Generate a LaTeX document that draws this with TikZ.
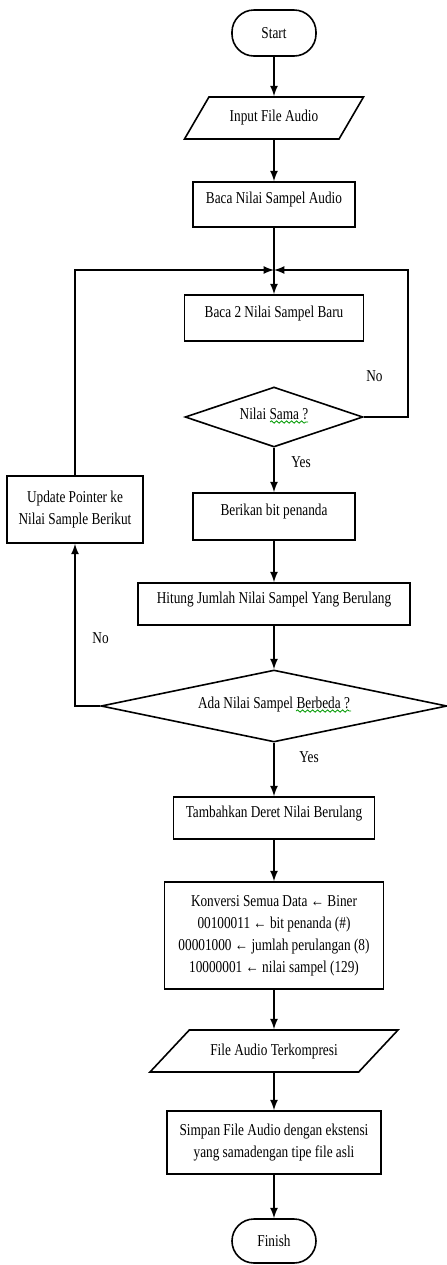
\documentclass[tikz,border=0pt]{standalone}
\usepackage{fontspec}
\setmainfont[FakeStretch=0.8]{Liberation Serif}
\usepackage{tikz}
\usetikzlibrary{shapes.geometric}
\usetikzlibrary{decorations.pathmorphing}

\begin{document}
\begin{tikzpicture}[x=.5pt,y=-.5pt,line width=.8pt,font=\fontsize{8.3}{11}\selectfont,
	box/.style={draw,inner sep=2pt,align=center},
	boxtop/.style={box,text height=6pt,text depth=7pt},
	term/.style={draw,rounded corners=11pt,minimum width=42pt,minimum height=23pt},
	io/.style={draw,trapezium,trapezium stretches=true,minimum height=21pt},
	cond/.style={draw,diamond,inner sep=0pt,text height=6pt,text depth=4pt}]
			\useasboundingbox (0,0) rectangle (446,1265);

			\node[term] (start) at (274,33) {Start};
			\node[io,trapezium left angle=56,trapezium right angle=124,minimum width=90pt] (input) at (274,118) {Input File Audio};
			\node[boxtop,minimum width=81pt,minimum height=22.5pt] (audio) at (274,204.5) {Baca Nilai Sampel Audio};
			\coordinate (m) at (274,270);
			\node[boxtop,minimum width=89.5pt,minimum height=23pt] (baca2) at (274,318) {Baca 2 Nilai Sampel Baru};
			\node[cond,aspect=3,minimum width=89pt,minimum height=30pt] (sama) at (274,417) {Nilai Sama ?};
			\coordinate (r) at (408,270);
			\node[box,minimum width=68pt,minimum height=33.5pt] (update) at (75,509.5) {Update Pointer ke\\Nilai Sample Berikut};
			\node[boxtop,minimum width=81pt,minimum height=23.5pt] (berikan) at (274,516.5) {Berikan bit penanda};
			\node[boxtop,minimum width=136pt,minimum height=21pt] (hitung) at (274,604) {Hitung Jumlah Nilai Sampel Yang Berulang};
			\node[cond,aspect=4.8,minimum width=173pt,minimum height=36pt] (ada) at (274,706) {Ada Nilai Sampel Berbeda ?};
			\node[boxtop,minimum width=100.5pt,minimum height=21pt] (tambah) at (274,818) {Tambahkan Deret Nilai Berulang};
			\node[box,minimum width=109.5pt,minimum height=53.5pt] (konversi) at (274,935.5) {Konversi Semua Data ← Biner\\00100011 ← bit penanda (\#)\\00001000 ← jumlah perulangan (8)\\10000001 ← nilai sampel (129)};
			\node[io,trapezium left angle=41,trapezium right angle=139,minimum width=124pt] (kompres) at (274,1051) {File Audio Terkompresi};
			\node[box,minimum width=107pt,minimum height=31.5pt] (simpan) at (274,1142.5) {Simpan File Audio dengan ekstensi\\yang samadengan tipe file asli};
			\node[term,minimum height=22pt] (finish) at (274,1241) {Finish};

			%% spelling marks
			\draw[green!60!black,line width=.4pt,decorate,decoration={snake,amplitude=.6pt,segment length=2.5pt}] (270,422) -- (308,422);
			\draw[green!60!black,line width=.4pt,decorate,decoration={snake,amplitude=.6pt,segment length=2.5pt}] (296,711) -- (351,711);

			%% lines
			\draw[-latex] (start) -- (input);
			\draw[-latex] (input) -- (audio);
			\draw[-latex] (audio) -- (baca2);
			\draw[-latex] (update.north) |- (m);
			\draw[-latex] (sama.east) -| (r) node[pos=.64,left=9pt] {No} -- (m);
			\draw[-latex] (sama) -- (berikan) node[pos=.33,right=5pt] {Yes};
			\draw[-latex] (berikan) -- (hitung);
			\draw[-latex] (hitung) -- (ada);
			\draw[-latex] (ada.west) -| (update.south) node[pos=.71,right=5pt] {No};
			\draw[-latex] (ada) -- (tambah) node[pos=.27,right=9pt] {Yes};
			\draw[-latex] (tambah) -- (konversi);
			\draw[-latex] (konversi) -- (kompres);
			\draw[-latex] (kompres) -- (simpan);
			\draw[-latex] (simpan) -- (finish);
		\end{tikzpicture}
\end{document}
